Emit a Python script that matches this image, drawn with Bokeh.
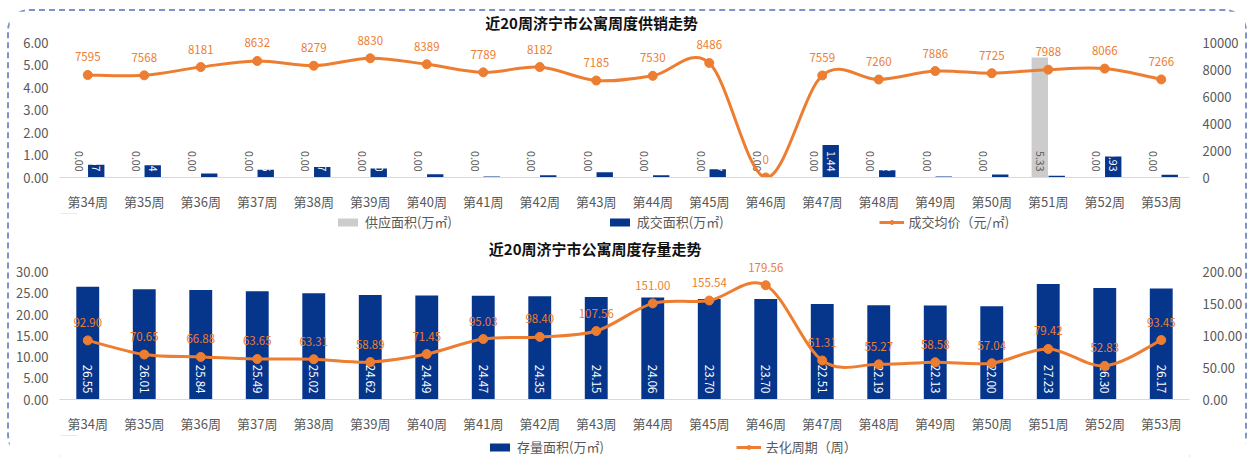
import math
from bokeh.plotting import figure
from bokeh.models import (ColumnDataSource, FactorRange, Range1d, LinearAxis, FixedTicker,
                          NumeralTickFormatter, Legend, LegendItem, Label)
from bokeh.transform import dodge
from bokeh.layouts import column
from bokeh.embed import file_html
from bokeh.resources import INLINE
from bokeh.core.properties import value

weeks = ["第34周", "第35周", "第36周", "第37周", "第38周", "第39周", "第40周", "第41周", "第42周", "第43周",
         "第44周", "第45周", "第46周", "第47周", "第48周", "第49周", "第50周", "第51周", "第52周", "第53周"]
supply = [0, 0, 0, 0, 0, 0, 0, 0, 0, 0, 0, 0, 0, 0, 0, 0, 0, 5.33, 0, 0]
deal = [0.57, 0.54, 0.18, 0.35, 0.47, 0.40, 0.14, 0.05, 0.10, 0.23,
        0.10, 0.37, 0.00, 1.44, 0.32, 0.04, 0.13, 0.08, 0.93, 0.12]
price = [7595, 7568, 8181, 8632, 8279, 8830, 8389, 7789, 8182, 7185,
         7530, 8486, 0, 7559, 7260, 7886, 7725, 7988, 8066, 7266]
stock = [26.55, 26.01, 25.84, 25.49, 25.02, 24.62, 24.49, 24.47, 24.35, 24.15,
         24.06, 23.70, 23.70, 22.51, 22.19, 22.13, 22.00, 27.23, 26.30, 26.17]
cycle = [92.90, 70.65, 66.88, 63.65, 63.31, 58.89, 71.45, 95.03, 98.40, 107.56,
         151.00, 155.54, 179.56, 61.31, 55.27, 58.58, 57.04, 79.42, 52.83, 93.45]
left_ticks_top = [0, 1, 2, 3, 4, 5, 6]
right_ticks_top = [0, 2000, 4000, 6000, 8000, 10000]
left_ticks_bot = [0, 5, 10, 15, 20, 25, 30]
right_ticks_bot = [0, 50, 100, 150, 200]
title_top = "近20周济宁市公寓周度供销走势"
title_bot = "近20周济宁市公寓周度存量走势"

FONT = "Noto Sans CJK SC"
BLUE = "#06358C"
ORANGE = "#ED7D31"
GRAY = "#CCCCCC"
TXT = "#595959"
W = 1237

# headroom above the top tick so that the data labels are not cut by the frame
HEAD_TOP = 6.4 / 6
HEAD_BOT = 33 / 30


def smooth_segments(vals):
    n = len(vals)
    xs = [i + 0.5 for i in range(n)]
    d = dict(x0=[], y0=[], x1=[], y1=[], cx0=[], cy0=[], cx1=[], cy1=[])
    for i in range(n - 1):
        pxm, pym = (xs[i - 1], vals[i - 1]) if i > 0 else (xs[i], vals[i])
        pxp, pyp = (xs[i + 2], vals[i + 2]) if i + 2 < n else (xs[i + 1], vals[i + 1])
        d["x0"].append(xs[i]); d["y0"].append(vals[i])
        d["x1"].append(xs[i + 1]); d["y1"].append(vals[i + 1])
        d["cx0"].append(xs[i] + (xs[i + 1] - pxm) / 6); d["cy0"].append(vals[i] + (vals[i + 1] - pym) / 6)
        d["cx1"].append(xs[i + 1] - (pxp - xs[i]) / 6); d["cy1"].append(vals[i + 1] - (pyp - vals[i]) / 6)
    return ColumnDataSource(d)


def style_axis(ax, fmt=None):
    ax.axis_line_color = None
    ax.major_tick_line_color = None
    ax.minor_tick_line_color = None
    ax.major_label_text_font = FONT
    ax.major_label_text_font_size = "13px"
    ax.major_label_text_color = TXT
    if fmt:
        ax.formatter = NumeralTickFormatter(format=fmt)


def chart_fig(height, ymax, bl, br, bt, bb):
    p = figure(x_range=FactorRange(factors=weeks), y_range=Range1d(0, ymax),
               width=W, height=height, output_backend="svg", toolbar_location=None,
               min_border_left=bl, min_border_right=br, min_border_top=bt, min_border_bottom=bb)
    p.outline_line_color = None
    p.grid.visible = False
    style_axis(p.xaxis[0])
    p.xaxis.axis_line_color = "#D9D9D9"
    p.xaxis.major_label_standoff = 8
    return p


def strip_fig(height, with_keys=False):
    # a thin panel (titles and legend rows); its frame fills it, ranges in pixels
    f = figure(width=W, height=height, x_range=Range1d(0, W), y_range=Range1d(0, height),
               output_backend="svg", toolbar_location=None, min_border=0,
               x_axis_location=None, y_axis_location=None)
    f.grid.visible = False
    f.outline_line_color = None
    if with_keys:
        # legend keys are drawn from the data in a range that keeps them out of view
        f.extra_y_ranges = {"off": Range1d(-2e6, -1e6)}
    return f


def add_title(f, text, x, y):
    f.add_layout(Label(x=x, y=y, text=text, text_font=FONT, text_font_size="15px",
                       text_font_style="bold", text_color="#111111",
                       text_align="left", text_baseline="middle"))


def make_legend(items, loc, spacing):
    return Legend(items=items, orientation="horizontal", location=loc, spacing=spacing,
                  padding=0, margin=0, label_standoff=5, glyph_width=25, glyph_height=10,
                  label_height=18, label_text_font=FONT, label_text_font_size="13px",
                  label_text_color=TXT, label_text_baseline="middle",
                  border_line_color=None, background_fill_alpha=0)


# ---------------- title strip of the top chart ----------------
f0 = strip_fig(22)
add_title(f0, title_top, 466, 11)

# ---------------- top chart ----------------
src1 = ColumnDataSource(dict(week=weeks, idx=list(range(len(weeks))), supply=supply, deal=deal,
                             price=price,
                             supply_lbl=["%.2f" % v for v in supply],
                             deal_lbl=["%.2f" % v for v in deal],
                             price_lbl=["%d" % v for v in price]))
p1 = chart_fig(180, 6 * HEAD_TOP, 43, 54, 0, 33)
p1.extra_y_ranges = {"price": Range1d(0, 10000 * HEAD_TOP)}
style_axis(p1.yaxis[0], "0.00")
p1.yaxis[0].ticker = FixedTicker(ticks=left_ticks_top)
ra = LinearAxis(y_range_name="price", ticker=FixedTicker(ticks=right_ticks_top))
style_axis(ra, "0")
ra.major_label_standoff = 7
p1.add_layout(ra, "right")

p1.vbar(x=dodge("week", -0.15, range=p1.x_range), top="supply", width=0.29,
        source=src1, fill_color=GRAY, line_color=None)
p1.vbar(x=dodge("week", 0.15, range=p1.x_range), top="deal", width=0.29,
        source=src1, fill_color=BLUE, line_color=None)
p1.text(x=dodge("week", -0.15, range=p1.x_range), y=0, text="supply_lbl", source=src1,
        angle=-math.pi / 2, text_align="right", text_baseline="middle", y_offset=-6,
        text_font=value(FONT), text_font_size="10.5px", text_color=TXT)
p1.text(x=dodge("week", 0.15, range=p1.x_range), y=0, text="deal_lbl", source=src1,
        angle=-math.pi / 2, text_align="right", text_baseline="middle", y_offset=-6,
        text_font=value(FONT), text_font_size="10.5px", text_color="white")
p1.bezier(x0="x0", y0="y0", x1="x1", y1="y1", cx0="cx0", cy0="cy0", cx1="cx1", cy1="cy1",
          source=smooth_segments(price), y_range_name="price", line_color=ORANGE, line_width=3)
p1.scatter(x="week", y="price", source=src1, y_range_name="price", size=9,
           fill_color=ORANGE, line_color=ORANGE)
p1.text(x="week", y="price", text="price_lbl", source=src1, y_range_name="price",
        text_align="center", text_baseline="middle", y_offset=-18,
        text_font=value(FONT), text_font_size="11.5px", text_color=ORANGE)

# ---------------- legend row of the top chart + title of the bottom chart ----------------
f1 = strip_fig(46, with_keys=True)
k_sup = f1.vbar(x="idx", top="supply", width=0.3, source=src1, fill_color=GRAY, line_color=None,
                y_range_name="off")
k_deal = f1.vbar(x="idx", top="deal", width=0.3, source=src1, fill_color=BLUE, line_color=None,
                 y_range_name="off")
k_pl = f1.line(x="idx", y="price", source=src1, line_color=ORANGE, line_width=3,
               y_range_name="off")
k_pm = f1.scatter(x="idx", y="price", source=src1, size=9, fill_color=ORANGE, line_color=ORANGE,
                  y_range_name="off")
f1.add_layout(make_legend([LegendItem(label="供应面积(万㎡)", renderers=[k_sup]),
                           LegendItem(label="成交面积(万㎡)", renderers=[k_deal]),
                           LegendItem(label="成交均价（元/㎡)", renderers=[k_pl, k_pm])],
                          (276, 28), 155))
add_title(f1, title_bot, 470, 11)

# ---------------- bottom chart ----------------
src2 = ColumnDataSource(dict(week=weeks, idx=list(range(len(weeks))), stock=stock, cycle=cycle,
                             stock_lbl=["%.2f" % v for v in stock],
                             cycle_lbl=["%.2f" % v for v in cycle]))
p2 = chart_fig(176, 30 * HEAD_BOT, 50, 53, 0, 33)
p2.extra_y_ranges = {"cycle": Range1d(0, 200 * HEAD_BOT)}
style_axis(p2.yaxis[0], "0.00")
p2.yaxis[0].ticker = FixedTicker(ticks=left_ticks_bot)
ra2 = LinearAxis(y_range_name="cycle", ticker=FixedTicker(ticks=right_ticks_bot))
style_axis(ra2, "0.00")
ra2.major_label_standoff = 7
p2.add_layout(ra2, "right")

p2.vbar(x="week", top="stock", width=0.405, source=src2, fill_color=BLUE, line_color=None)
p2.text(x="week", y=0, text="stock_lbl", source=src2,
        angle=-math.pi / 2, text_align="right", text_baseline="middle", y_offset=-6,
        text_font=value(FONT), text_font_size="11.5px", text_color="white")
p2.bezier(x0="x0", y0="y0", x1="x1", y1="y1", cx0="cx0", cy0="cy0", cx1="cx1", cy1="cy1",
          source=smooth_segments(cycle), y_range_name="cycle", line_color=ORANGE, line_width=3)
p2.scatter(x="week", y="cycle", source=src2, y_range_name="cycle", size=9,
           fill_color=ORANGE, line_color=ORANGE)
p2.text(x="week", y="cycle", text="cycle_lbl", source=src2, y_range_name="cycle",
        text_align="center", text_baseline="middle", y_offset=-18,
        text_font=value(FONT), text_font_size="11.5px", text_color=ORANGE)

# ---------------- legend row of the bottom chart ----------------
f2 = strip_fig(24, with_keys=True)
k_st = f2.vbar(x="idx", top="stock", width=0.4, source=src2, fill_color=BLUE, line_color=None,
               y_range_name="off")
k_cl = f2.line(x="idx", y="cycle", source=src2, line_color=ORANGE, line_width=3,
               y_range_name="off")
k_cm = f2.scatter(x="idx", y="cycle", source=src2, size=9, fill_color=ORANGE, line_color=ORANGE,
                  y_range_name="off")
f2.add_layout(make_legend([LegendItem(label="存量面积(万㎡)", renderers=[k_st]),
                           LegendItem(label="去化周期（周）", renderers=[k_cl, k_cm])],
                          (428, 3), 132))

layout = column(f0, p1, f1, p2, f2, width=1240, height=448, margin=(9, 0, 0, 7),
                styles={"border": "2px dashed #7F92CA", "border-radius": "22px"})
open("out.html", "w").write(file_html(layout, INLINE))
